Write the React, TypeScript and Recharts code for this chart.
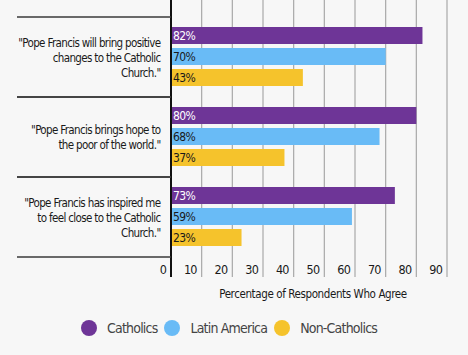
import React from 'react';
import { BarChart, Bar, XAxis, YAxis, CartesianGrid, Legend, LabelList } from 'recharts';

// statements on the y axis (wrapped as in the original)
const statements = ['positive', 'hope', 'inspired'];
const statementLines = [
  ['"Pope Francis will bring positive', 'changes to the Catholic', 'Church."'],
  ['"Pope Francis brings hope to', 'the poor of the world."'],
  ['"Pope Francis has inspired me', 'to feel close to the Catholic', 'Church."'],
];

const catholics = [82, 80, 73];
const latinAmerica = [70, 68, 59];
const nonCatholics = [43, 37, 23];

const xTicks = [0, 10, 20, 30, 40, 50, 60, 70, 80, 90];
const axisTitle = 'Percentage of Respondents Who Agree';

const series = [
  { key: 'catholics', name: 'Catholics', color: '#6e3597', text: '#ffffff' },
  { key: 'latinAmerica', name: 'Latin America', color: '#69bbf6', text: '#1a1a1a' },
  { key: 'nonCatholics', name: 'Non-Catholics', color: '#f5c32c', text: '#1a1a1a' },
];

const data = statements.map((s, i) => ({
  name: s,
  catholics: catholics[i],
  latinAmerica: latinAmerica[i],
  nonCatholics: nonCatholics[i],
}));

// narrow sans to stand in for the original condensed face
const FONT = '"DejaVu Sans Condensed", "DejaVu Sans", sans-serif';
const narrow = (size: number, spacing: number) => ({
  fontSize: size,
  fontFamily: FONT,
  fontStretch: 'condensed',
  letterSpacing: spacing,
});

const W = 468;
const H = 355;
const Y_AXIS_W = 171;
const PLOT_BOTTOM = 277;
const PAD_TOP = 17;
const PAD_BOTTOM = 20;
const BAND = (PLOT_BOTTOM - PAD_TOP - PAD_BOTTOM) / statements.length;

const StatementTick = (props: any) => {
  const { y, payload } = props;
  const idx = statements.indexOf(payload.value);
  const lines = statementLines[idx] || [];
  const lh = 15;
  return (
    <g>
      <line x1={17} x2={Y_AXIS_W} y1={y - BAND / 2} y2={y - BAND / 2} stroke="#3a3a3a" strokeWidth={1.5} />
      <line x1={17} x2={Y_AXIS_W} y1={y + BAND / 2} y2={y + BAND / 2} stroke="#3a3a3a" strokeWidth={1.5} />
      {lines.map((l, i) => (
        <text
          key={i}
          x={160.5}
          y={y + (i - (lines.length - 1) / 2) * lh + 4.5}
          textAnchor="end"
          style={narrow(11.5, -0.65)}
          fill="#1a1a1a"
        >
          {l}
        </text>
      ))}
    </g>
  );
};

const PercentTick = (props: any) => {
  const { x, payload } = props;
  return (
    <text x={x - 5} y={PLOT_BOTTOM - 3} textAnchor="end" style={narrow(12.5, -0.8)} fill="#1a1a1a">
      {payload.value}
    </text>
  );
};

const AxisTitle = (props: any) => {
  const { viewBox } = props;
  return (
    <text
      x={viewBox.x + viewBox.width / 2 + 4}
      y={viewBox.y + 21}
      textAnchor="middle"
      style={narrow(11.5, -0.4)}
      fill="#1a1a1a"
    >
      {axisTitle}
    </text>
  );
};

const LegendContent = () => (
  <div style={{ display: 'flex', alignItems: 'center', height: 24, paddingLeft: 81 }}>
    {series.map((s) => (
      <div key={s.key} style={{ display: 'flex', alignItems: 'center', marginRight: 7 }}>
        <span
          style={{ width: 16, height: 16, borderRadius: 8, background: s.color, display: 'inline-block', marginRight: 10 }}
        />
        <span style={{ ...narrow(14, -0.8), color: '#444' }}>{s.name}</span>
      </div>
    ))}
  </div>
);

export default function App() {
  return (
    <div style={{ position: 'absolute', left: 0, top: 0, width: W, height: H, background: '#f7f7f7' }}>
      <BarChart
        width={W}
        height={H}
        data={data}
        layout="vertical"
        margin={{ top: 0, right: 21, left: 0, bottom: 24 }}
        barCategoryGap={10}
        barGap={4}
      >
        <CartesianGrid vertical={true} horizontal={false} stroke="#a8a8a8" strokeWidth={1.2} />
        <XAxis
          type="number"
          domain={[0, 90]}
          ticks={xTicks}
          axisLine={false}
          tickLine={false}
          height={30}
          tick={<PercentTick />}
          label={<AxisTitle />}
        />
        <YAxis
          type="category"
          dataKey="name"
          width={Y_AXIS_W}
          padding={{ top: PAD_TOP, bottom: PAD_BOTTOM }}
          axisLine={{ stroke: '#111', strokeWidth: 2 }}
          tickLine={false}
          tick={<StatementTick />}
        />
        <Legend content={<LegendContent />} wrapperStyle={{ top: 316, left: 0, width: W, height: 24 }} />
        {series.map((s) => (
          <Bar key={s.key} dataKey={s.key} name={s.name} fill={s.color} isAnimationActive={false}>
            <LabelList
              dataKey={s.key}
              position="insideLeft"
              offset={2}
              formatter={(v: any) => `${v}%`}
              style={{ fill: s.text, ...narrow(12, -0.6) }}
            />
          </Bar>
        ))}
      </BarChart>
    </div>
  );
}
